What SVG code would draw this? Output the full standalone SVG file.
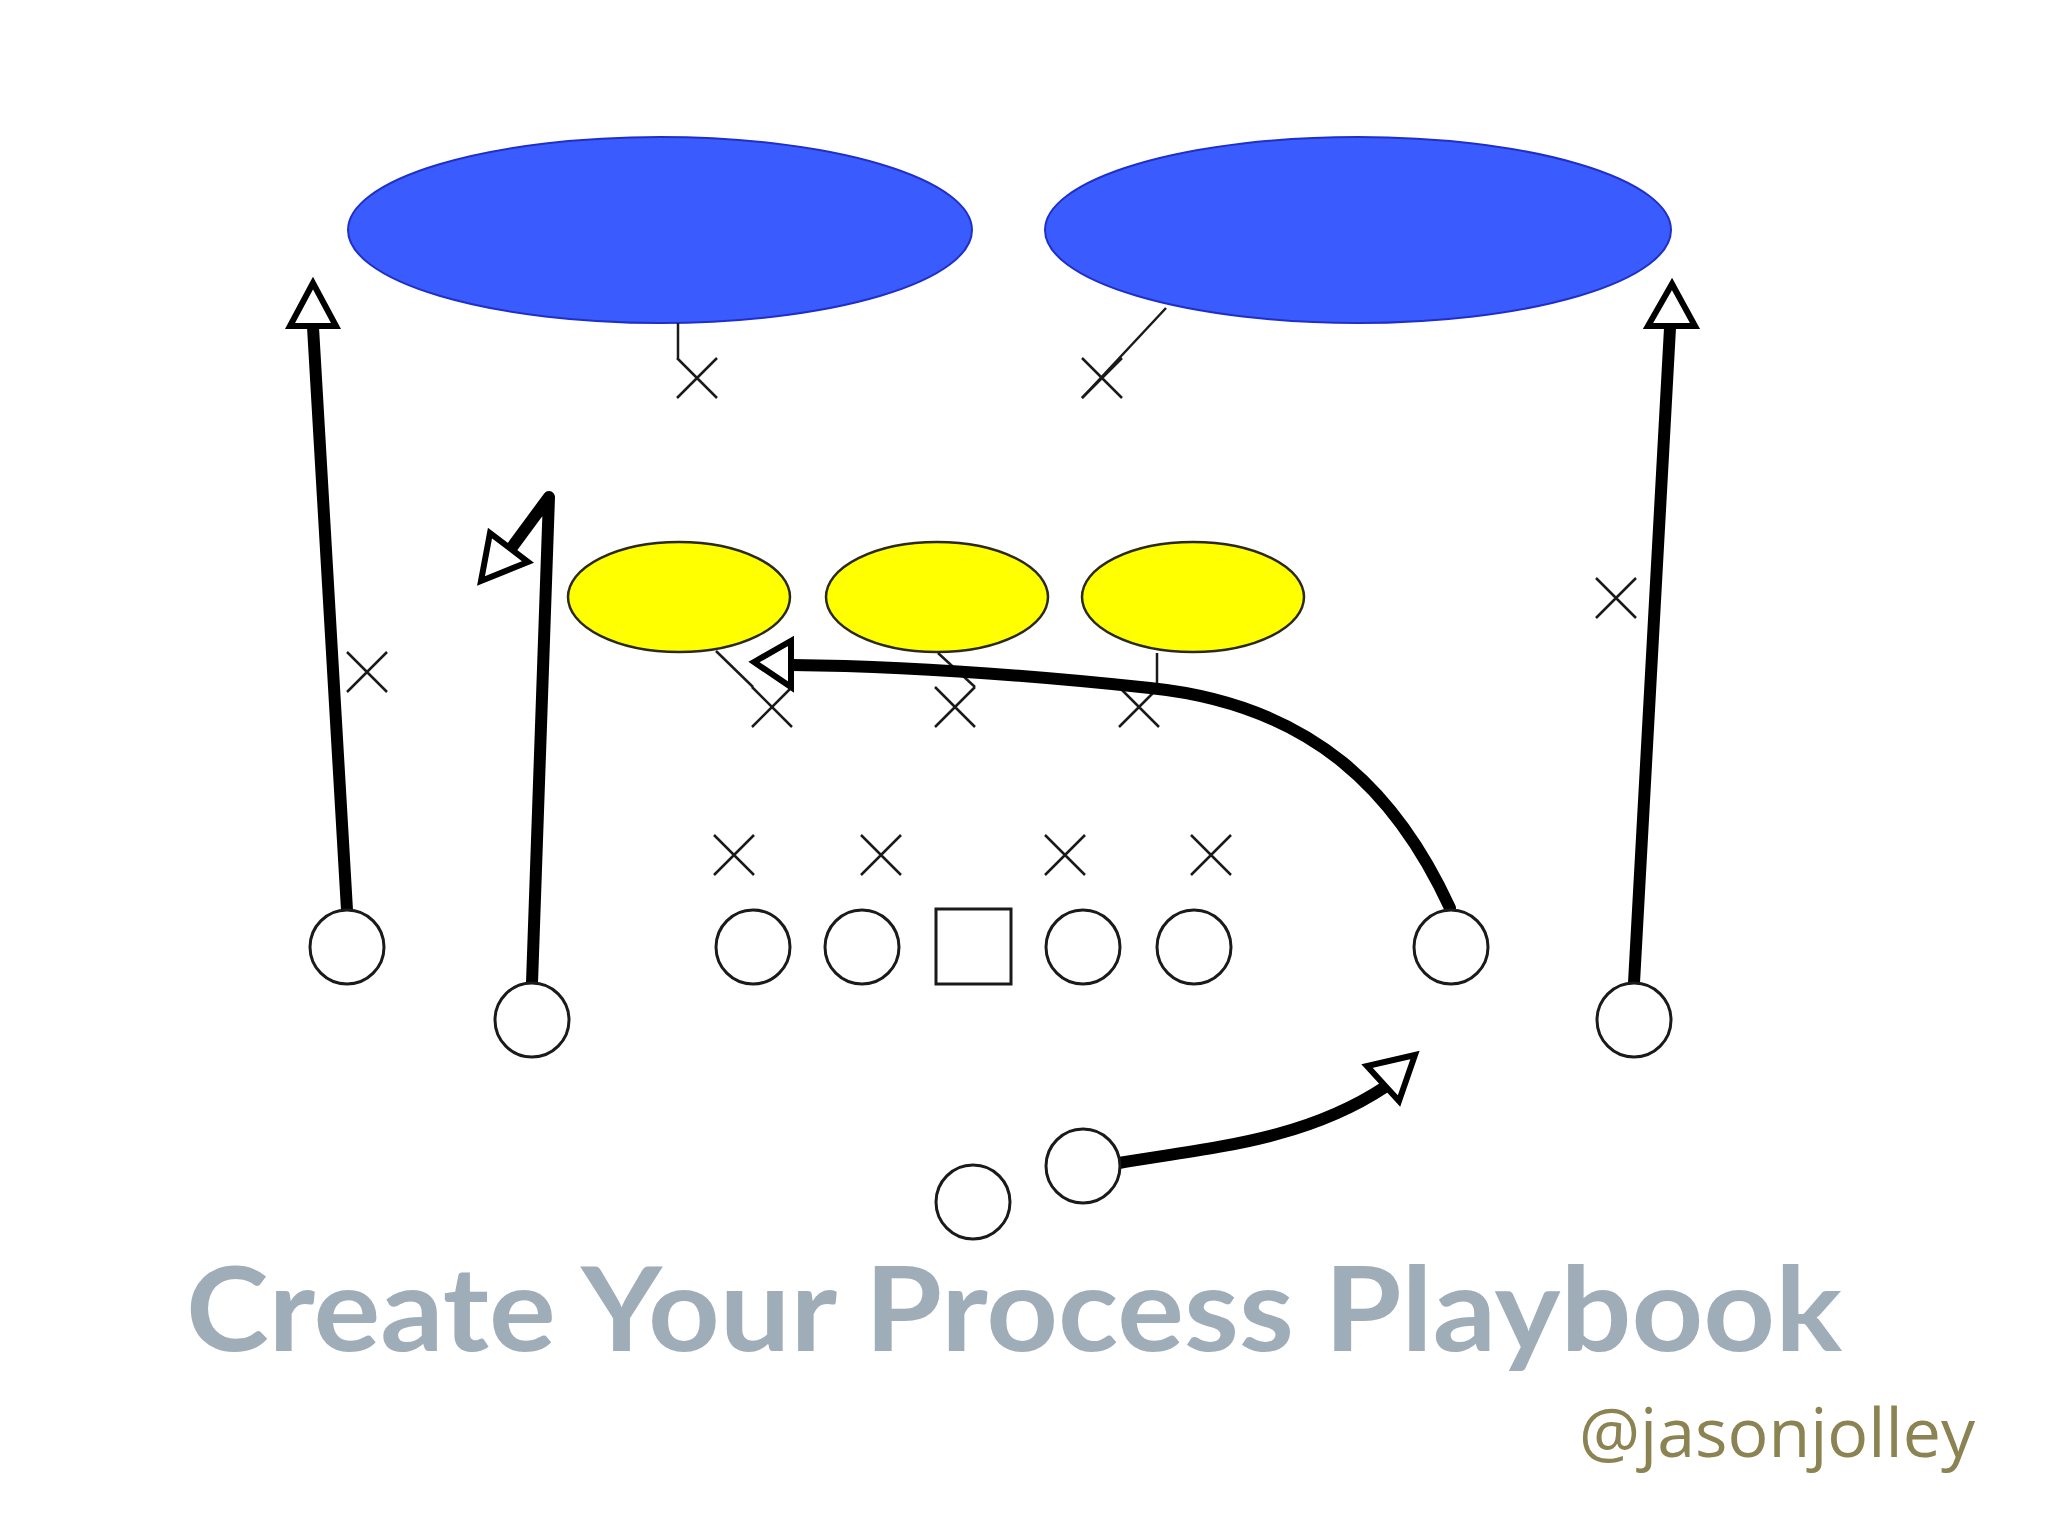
<svg xmlns="http://www.w3.org/2000/svg" xmlns:xlink="http://www.w3.org/1999/xlink" width="2048" height="1536" viewBox="0 0 2048 1536">
<style>
.blue{fill:#3a5cff;stroke:#1f2fc8;stroke-width:2}
.yellow{fill:#ffff00;stroke:#2a2a1a;stroke-width:2.5}
.player{fill:#ffffff;stroke:#1a1a1a;stroke-width:3}
.thin{fill:none;stroke:#1a1a1a;stroke-width:2.5}
.route{fill:none;stroke:#000;stroke-width:12;stroke-linecap:round;stroke-linejoin:round}
.head{fill:#ffffff;stroke:#000;stroke-width:6;stroke-linejoin:miter}
.title{font-family:"Century Gothic","Lato","Liberation Sans",sans-serif;font-weight:bold;fill:#9eadb8}
.handle{font-family:"Open Sans","Noto Sans","Liberation Sans",sans-serif;fill:#8c8352}
</style>
<defs>
<path id="x" d="M-20,-20 L20,20 M20,-20 L-20,20" class="thin"/>
</defs>
<rect width="2048" height="1536" fill="#ffffff"/>

<g id="zones">
<ellipse id="zone-deep-left" class="blue" cx="660" cy="230" rx="312" ry="93"/>
<ellipse id="zone-deep-right" class="blue" cx="1358" cy="230" rx="313" ry="93"/>
<ellipse id="zone-under-1" class="yellow" cx="679" cy="597" rx="111" ry="55"/>
<ellipse id="zone-under-2" class="yellow" cx="937" cy="597" rx="111" ry="55"/>
<ellipse id="zone-under-3" class="yellow" cx="1193" cy="597" rx="111" ry="55"/>
</g>

<g id="defense">
<g id="safety-left"><use xlink:href="#x" x="697" y="378"/></g>
<g id="safety-right"><use xlink:href="#x" x="1102" y="378"/></g>
<g id="lb-1"><use xlink:href="#x" x="772" y="707"/></g>
<g id="lb-2"><use xlink:href="#x" x="955" y="707"/></g>
<g id="lb-3"><use xlink:href="#x" x="1139" y="707"/></g>
<g id="cb-left"><use xlink:href="#x" x="367" y="672"/></g>
<g id="cb-right"><use xlink:href="#x" x="1616" y="598"/></g>
<g id="dl-1"><use xlink:href="#x" x="734" y="855"/></g>
<g id="dl-2"><use xlink:href="#x" x="881" y="855"/></g>
<g id="dl-3"><use xlink:href="#x" x="1065" y="855"/></g>
<g id="dl-4"><use xlink:href="#x" x="1211" y="855"/></g>
</g>

<g id="connectors">
<path class="thin" d="M678,323 L678,358"/>
<path class="thin" d="M1166,308 L1082,398"/>
<path class="thin" d="M716,651 L753,687"/>
<path class="thin" d="M938,653 L975,687"/>
<path class="thin" d="M1157,653 L1157,687"/>

<path class="route" d="M347,910 L313,327"/>
<polygon class="head" points="313,283 290,326 336,326"/>

<path class="route" d="M1634,983 L1670,328"/>
<polygon class="head" points="1672,284 1648,326 1695,326"/>

<path class="route" d="M532,983 L549,497 L510,550"/>
<polygon class="head" points="481,581 490,533 528,562"/>

<path class="route" d="M1450,908 C1398,795 1315,705 1150,688 C1000,672 880,666 792,665"/>
<polygon class="head" points="754,662 791,641 791,687"/>

<path class="route" d="M1119,1163 C1215,1147 1305,1140 1385,1087"/>
<polygon class="head" points="1415,1055 1367,1066 1399,1101"/>
</g>

<g id="offense">
<circle id="wr-left" class="player" cx="347" cy="947" r="37"/>
<circle id="slot" class="player" cx="532" cy="1020" r="37"/>
<circle id="lt" class="player" cx="753" cy="947" r="37"/>
<circle id="lg" class="player" cx="862" cy="947" r="37"/>
<rect id="center" class="player" x="936" y="909" width="75" height="75"/>
<circle id="rg" class="player" cx="1083" cy="947" r="37"/>
<circle id="rt" class="player" cx="1194" cy="947" r="37"/>
<circle id="te" class="player" cx="1451" cy="947" r="37"/>
<circle id="wr-right" class="player" cx="1634" cy="1020" r="37"/>
<circle id="back-1" class="player" cx="1083" cy="1166" r="37"/>
<circle id="back-2" class="player" cx="973" cy="1202" r="37"/>
</g>

<text class="title" x="186" y="1351" font-size="116" textLength="1656" lengthAdjust="spacingAndGlyphs">Create Your Process Playbook</text>
<text class="handle" x="1579" y="1457" font-size="68" textLength="396" lengthAdjust="spacingAndGlyphs">@jasonjolley</text>
</svg>
